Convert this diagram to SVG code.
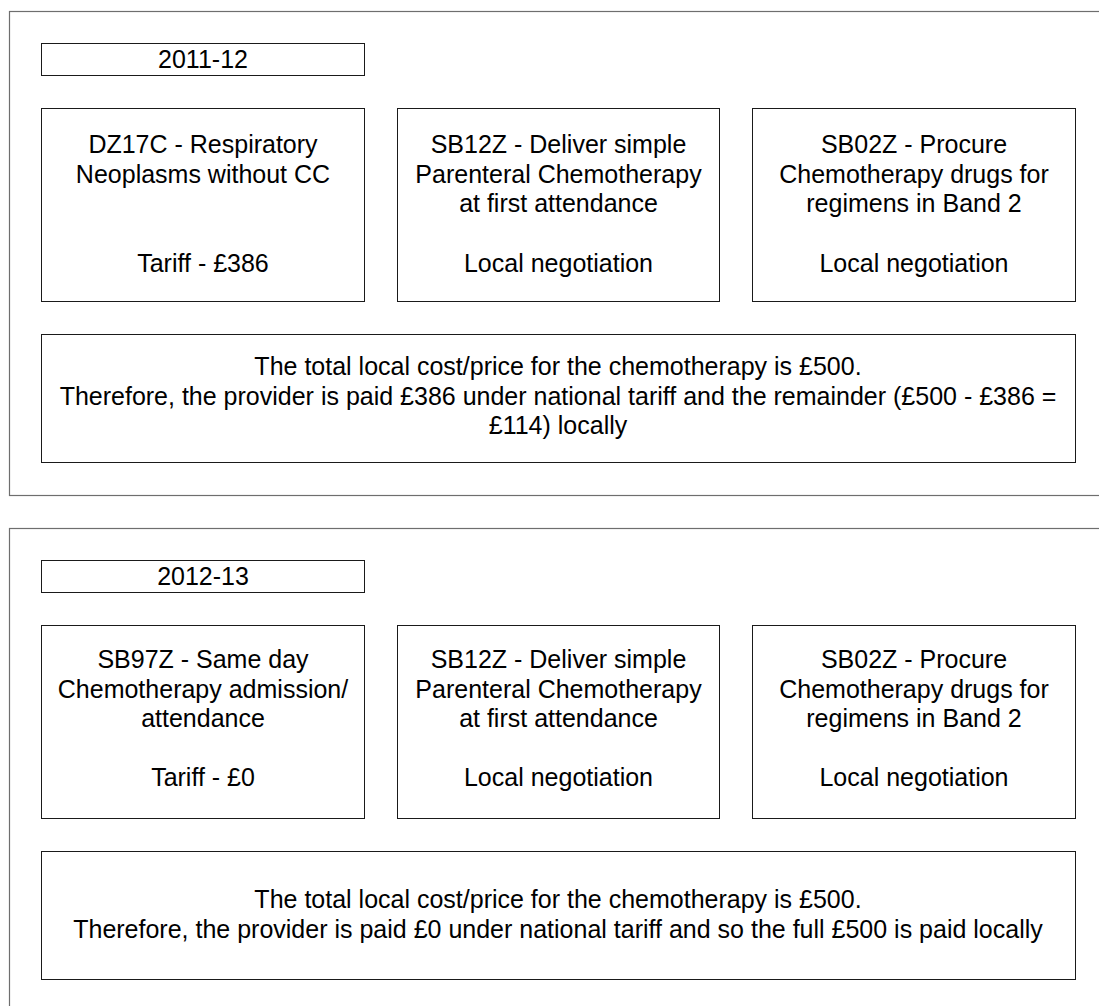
<svg xmlns="http://www.w3.org/2000/svg" width="1099" height="1006" viewBox="0 0 1099 1006">
  <style>
    .frame { fill: none; stroke: #6e6e6e; stroke-width: 1.2; }
    .box { fill: #ffffff; stroke: #1a1a1a; stroke-width: 1; }
    .t { font-family: "Liberation Sans", Arial, sans-serif; font-size: 25px; fill: #000000; text-anchor: middle; }
  </style>
  <rect width="1099" height="1006" fill="#ffffff"/>

  <!-- 2011-12 panel -->
  <g id="panel-2011-12">
    <rect class="frame" x="9.5" y="11.5" width="1110" height="484"/>
    <g id="year-2011-12">
      <rect class="box" x="41.5" y="43.5" width="323" height="32"/>
      <text class="t" x="203" y="68">2011-12</text>
    </g>
    <g id="dz17c">
      <rect class="box" x="41.5" y="108.5" width="323" height="193"/>
      <text class="t" x="203" y="153">DZ17C - Respiratory</text>
      <text class="t" x="203" y="182.5">Neoplasms without CC</text>
      <text class="t" x="203" y="271.5">Tariff - £386</text>
    </g>
    <g id="sb12z-2011">
      <rect class="box" x="397.5" y="108.5" width="322" height="193"/>
      <text class="t" x="558.5" y="153">SB12Z - Deliver simple</text>
      <text class="t" x="558.5" y="182.5">Parenteral Chemotherapy</text>
      <text class="t" x="558.5" y="212">at first attendance</text>
      <text class="t" x="558.5" y="271.5">Local negotiation</text>
    </g>
    <g id="sb02z-2011">
      <rect class="box" x="752.5" y="108.5" width="323" height="193"/>
      <text class="t" x="914" y="153">SB02Z - Procure</text>
      <text class="t" x="914" y="182.5">Chemotherapy drugs for</text>
      <text class="t" x="914" y="212">regimens in Band 2</text>
      <text class="t" x="914" y="271.5">Local negotiation</text>
    </g>
    <g id="summary-2011">
      <rect class="box" x="41.5" y="334.5" width="1034" height="128"/>
      <text class="t" x="558" y="375">The total local cost/price for the chemotherapy is £500.</text>
      <text class="t" x="558" y="404.5">Therefore, the provider is paid £386 under national tariff and the remainder (£500 - £386 =</text>
      <text class="t" x="558" y="434">£114) locally</text>
    </g>
  </g>

  <!-- 2012-13 panel -->
  <g id="panel-2012-13">
    <rect class="frame" x="9.5" y="528.5" width="1110" height="490"/>
    <g id="year-2012-13">
      <rect class="box" x="41.5" y="560.5" width="323" height="32"/>
      <text class="t" x="203" y="585">2012-13</text>
    </g>
    <g id="sb97z">
      <rect class="box" x="41.5" y="625.5" width="323" height="193"/>
      <text class="t" x="203" y="668">SB97Z - Same day</text>
      <text class="t" x="203" y="697.5">Chemotherapy admission/</text>
      <text class="t" x="203" y="727">attendance</text>
      <text class="t" x="203" y="786">Tariff - £0</text>
    </g>
    <g id="sb12z-2012">
      <rect class="box" x="397.5" y="625.5" width="322" height="193"/>
      <text class="t" x="558.5" y="668">SB12Z - Deliver simple</text>
      <text class="t" x="558.5" y="697.5">Parenteral Chemotherapy</text>
      <text class="t" x="558.5" y="727">at first attendance</text>
      <text class="t" x="558.5" y="786">Local negotiation</text>
    </g>
    <g id="sb02z-2012">
      <rect class="box" x="752.5" y="625.5" width="323" height="193"/>
      <text class="t" x="914" y="668">SB02Z - Procure</text>
      <text class="t" x="914" y="697.5">Chemotherapy drugs for</text>
      <text class="t" x="914" y="727">regimens in Band 2</text>
      <text class="t" x="914" y="786">Local negotiation</text>
    </g>
    <g id="summary-2012">
      <rect class="box" x="41.5" y="851.5" width="1034" height="128"/>
      <text class="t" x="558" y="908">The total local cost/price for the chemotherapy is £500.</text>
      <text class="t" x="558" y="937.5">Therefore, the provider is paid £0 under national tariff and so the full £500 is paid locally</text>
    </g>
  </g>

  <!-- no connectors in this figure -->
  <g id="connectors"/>
</svg>
